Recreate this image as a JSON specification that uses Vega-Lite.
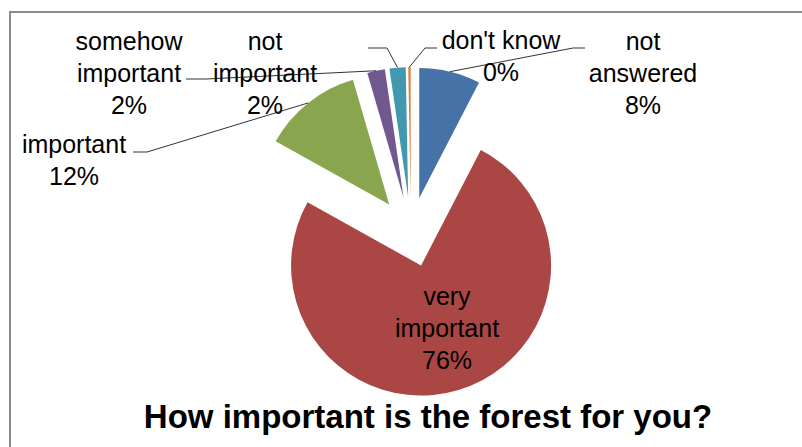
{
  "$schema": "https://vega.github.io/schema/vega-lite/v6.json",
  "width": 800,
  "height": 440,
  "autosize": "none",
  "padding": {"left": 10, "top": 12, "right": 0, "bottom": 0},
  "background": "white",
  "config": {"view": {"stroke": "#8c8c8c", "strokeWidth": 2}},
  "title": {
    "text": "How important is the forest for you?",
    "orient": "bottom",
    "anchor": "middle",
    "frame": "group",
    "font": "Liberation Sans",
    "fontSize": 33,
    "fontWeight": "bold",
    "color": "black",
    "baseline": "alphabetic",
    "offset": -24,
    "dx": 18
  },
  "data": {
    "values": [
      {"category": "not answered", "value": 7.6, "order": 1, "label": "not\nanswered\n8%"},
      {"category": "very important", "value": 75.5, "order": 2, "label": "very\nimportant\n76%"},
      {"category": "important", "value": 12.4, "order": 3, "label": "important\n12%"},
      {"category": "somehow important", "value": 2.2, "order": 4, "label": "somehow\nimportant\n2%"},
      {"category": "not important", "value": 2.0, "order": 5, "label": "not\nimportant\n2%"},
      {"category": "don't know", "value": 0.3, "order": 6, "label": "don't know\n0%"}
    ]
  },
  "transform": [
    {"stack": "value", "groupby": [], "sort": [{"field": "order", "order": "ascending"}], "as": ["v0", "v1"]},
    {"calculate": "PI*(datum.v0+datum.v1)/100", "as": "a"},
    {"calculate": "35*sin(datum.a)", "as": "cx"},
    {"calculate": "35*cos(datum.a)", "as": "cy"},
    {"calculate": "165*sin(datum.a)", "as": "ox"},
    {"calculate": "165*cos(datum.a)", "as": "oy"},
    {"calculate": "[232,36,-337,-282,-146,90][datum.order-1]", "as": "lx"},
    {"calculate": "[190,-65,87,190,190,191][datum.order-1]", "as": "ly"},
    {"calculate": "[162,0,-264,-205,-24,14][datum.order-1]", "as": "ex"},
    {"calculate": "[184,0,80,153,184,184][datum.order-1]", "as": "ey"},
    {"calculate": "[174,0,-278,-225,-43,26][datum.order-1]", "as": "hx"}
  ],
  "layer": [
    {
      "mark": {"type": "arc", "radius": 130},
      "encoding": {
        "theta": {"field": "v0", "type": "quantitative", "scale": {"domain": [0, 100], "range": [0, 6.283185307]}},
        "theta2": {"field": "v1"},
        "x": {"field": "cx", "type": "quantitative", "scale": {"domain": [-401, 399], "nice": false, "zero": false}, "axis": null},
        "y": {"field": "cy", "type": "quantitative", "scale": {"domain": [-220, 220], "nice": false, "zero": false}, "axis": null},
        "color": {
          "field": "category",
          "type": "nominal",
          "scale": {
            "domain": ["not answered", "very important", "important", "somehow important", "not important", "don't know"],
            "range": ["#4572A7", "#AA4643", "#89A54E", "#71588F", "#4198AF", "#DB843D"]
          },
          "legend": null
        }
      }
    },
    {
      "transform": [{"filter": "datum.order != 2"}],
      "mark": {"type": "rule", "color": "#333333", "strokeWidth": 1},
      "encoding": {
        "x": {"field": "ox", "type": "quantitative"},
        "y": {"field": "oy", "type": "quantitative"},
        "x2": {"field": "ex"},
        "y2": {"field": "ey"}
      }
    },
    {
      "transform": [{"filter": "datum.order != 2"}],
      "mark": {"type": "rule", "color": "#333333", "strokeWidth": 1},
      "encoding": {
        "x": {"field": "ex", "type": "quantitative"},
        "y": {"field": "ey", "type": "quantitative"},
        "x2": {"field": "hx"},
        "y2": {"field": "ey"}
      }
    },
    {
      "mark": {"type": "text", "font": "Liberation Sans", "fontSize": 25, "lineHeight": 32, "lineBreak": "\n", "align": "center", "baseline": "middle", "color": "black"},
      "encoding": {
        "x": {"field": "lx", "type": "quantitative"},
        "y": {"field": "ly", "type": "quantitative"},
        "text": {"field": "label"}
      }
    }
  ]
}
